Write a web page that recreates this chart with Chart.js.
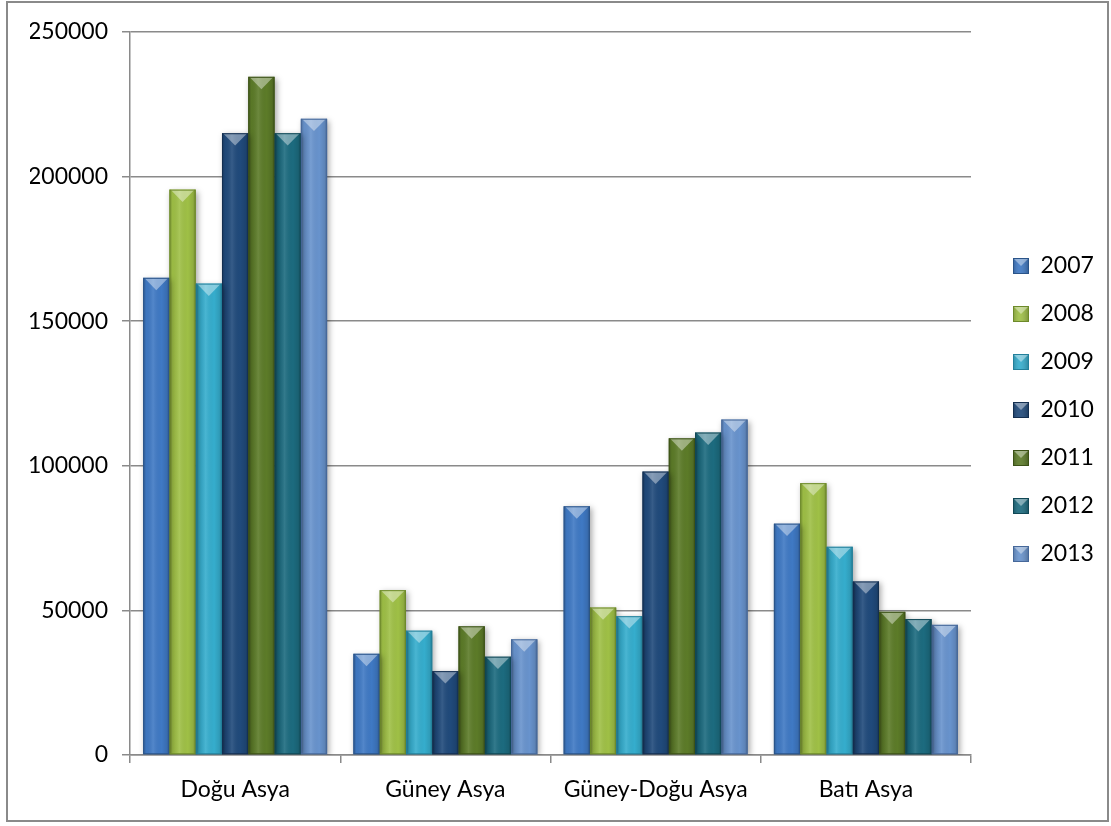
<!DOCTYPE html>
<html lang="tr">
<head>
<meta charset="utf-8">
<title>Asya bölgeleri 2007-2013</title>
<script src="https://cdn.jsdelivr.net/npm/chart.js@4.4.1/dist/chart.umd.min.js"></script>
<style>
  html, body { margin: 0; padding: 0; background: #fff; }
  #wrap { width: 1111px; height: 826px; }
</style>
</head>
<body>
<div id="wrap"><canvas id="chart" width="1111" height="826"></canvas></div>
<script>
// Regions on the category axis
const regions = ['Doğu Asya', 'Güney Asya', 'Güney-Doğu Asya', 'Batı Asya'];

// One series per year
const years = ['2007', '2008', '2009', '2010', '2011', '2012', '2013'];
const values2007 = [165000, 35000, 86000, 80000];
const values2008 = [195500, 57000, 51000, 94000];
const values2009 = [163000, 43000, 48000, 72000];
const values2010 = [215000, 29000, 98000, 60000];
const values2011 = [234500, 44500, 109500, 49500];
const values2012 = [215000, 34000, 111500, 47000];
const values2013 = [220000, 40000, 116000, 45000];

// Value axis ticks
const yMin = 0;
const yMax = 250000;
const yStep = 50000;

const seriesColors = ['#3f79c4', '#9fc046', '#35adcd', '#204a7b', '#5c7b28', '#1c6b7f', '#6893cd'];
const seriesBorders = ['#2a5489', '#6d8a2a', '#23809b', '#142f50', '#3c5217', '#114856', '#46689a'];

const seriesValues = [values2007, values2008, values2009, values2010, values2011, values2012, values2013];

const FONT = 'Lato, "Open Sans", sans-serif';
const FONT_SIZE = 23;
const GRAY = '#8a8a8a';

Chart.defaults.font.family = FONT;
Chart.defaults.font.size = FONT_SIZE;
Chart.defaults.color = '#000';

// Small bevelled squares used as legend markers
function makeSwatch(fill, edge) {
  const c = document.createElement('canvas');
  c.width = 16;
  c.height = 16;
  const g = c.getContext('2d');
  g.fillStyle = fill;
  g.fillRect(0, 0, 16, 16);
  const sh = g.createLinearGradient(0, 0, 16, 0);
  sh.addColorStop(0, 'rgba(0,0,0,0.2)');
  sh.addColorStop(0.4, 'rgba(255,255,255,0.08)');
  sh.addColorStop(1, 'rgba(0,0,0,0.25)');
  g.fillStyle = sh;
  g.fillRect(0, 0, 16, 16);
  g.beginPath();
  g.moveTo(0, 0);
  g.lineTo(16, 0);
  g.lineTo(8, 8);
  g.closePath();
  g.fillStyle = 'rgba(255,255,255,0.4)';
  g.fill();
  g.strokeStyle = edge;
  g.lineWidth = 1;
  g.strokeRect(0.5, 0.5, 15, 15);
  return c;
}
const legendSwatches = seriesColors.map((col, i) => makeSwatch(col, seriesBorders[i]));

// White background and the outer frame
const framePlugin = {
  id: 'frame',
  beforeDraw(chart) {
    const ctx = chart.ctx;
    ctx.save();
    ctx.fillStyle = '#fff';
    ctx.fillRect(0, 0, chart.width, chart.height);
    ctx.strokeStyle = GRAY;
    ctx.lineWidth = 2;
    ctx.strokeRect(7, 2, 1101, 819);
    ctx.restore();
  }
};

// Legend sits apart from the plot area on the right
const legendPlacePlugin = {
  id: 'legendPlace',
  beforeLayout(chart) {
    const lg = chart.legend;
    if (lg && !lg._fixedFit) {
      const fit = lg.fit;
      lg.fit = function () {
        fit.call(this);
        this.width = 140;
      };
      lg._fixedFit = true;
    }
  },
  afterLayout(chart) {
    const lg = chart.legend;
    lg.left = 988;
    lg.right = 1111;
    lg.width = 123;
    lg.top = 0;
    lg.bottom = 820;
    lg.height = 820;
  }
};

// Shadow under the bars, then shading and a bevelled top on each one
const bevelPlugin = {
  id: 'bevel',
  beforeDatasetsDraw(chart) {
    const ctx = chart.ctx;
    ctx.save();
    ctx.shadowColor = 'rgba(0,0,0,0.35)';
    ctx.shadowBlur = 6;
    ctx.shadowOffsetX = 2;
    ctx.shadowOffsetY = 2;
  },
  afterDatasetsDraw(chart) {
    const ctx = chart.ctx;
    ctx.restore();
    ctx.save();
    chart.data.datasets.forEach((ds, i) => {
      chart.getDatasetMeta(i).data.forEach(bar => {
        const { x, y, base, width } = bar.getProps(['x', 'y', 'base', 'width'], true);
        const left = x - width / 2;
        const right = x + width / 2;
        const h = base - y;
        if (h <= 0) return;

        const g = ctx.createLinearGradient(left, 0, right, 0);
        g.addColorStop(0, 'rgba(0,0,0,0.25)');
        g.addColorStop(0.12, 'rgba(0,0,0,0.03)');
        g.addColorStop(0.38, 'rgba(255,255,255,0.10)');
        g.addColorStop(0.7, 'rgba(0,0,0,0)');
        g.addColorStop(0.9, 'rgba(0,0,0,0.1)');
        g.addColorStop(1, 'rgba(0,0,0,0.3)');
        ctx.fillStyle = g;
        ctx.fillRect(left, y, width, h);

        // light facet pointing down from the top edge
        const capH = Math.min(width * 0.47, h);
        ctx.beginPath();
        ctx.moveTo(left + 1, y);
        ctx.lineTo(right - 1, y);
        ctx.lineTo(x, y + capH);
        ctx.closePath();
        ctx.fillStyle = 'rgba(255,255,255,0.4)';
        ctx.fill();

        ctx.strokeStyle = ds.borderColor;
        ctx.lineWidth = 1;
        ctx.strokeRect(left + 0.5, y + 0.5, width - 1, h - 1);
      });
    });
    ctx.restore();
  }
};

const datasets = years.map((year, i) => ({
  label: year,
  data: seriesValues[i],
  backgroundColor: seriesColors[i],
  borderColor: seriesBorders[i],
  borderWidth: 0,
  barPercentage: 1,
  categoryPercentage: 0.875
}));

new Chart(document.getElementById('chart').getContext('2d'), {
  type: 'bar',
  data: { labels: regions, datasets },
  options: {
    responsive: false,
    animation: false,
    layout: { padding: { left: 30, top: 32, right: 0, bottom: 0 } },
    plugins: {
      legend: {
        position: 'right',
        labels: {
          usePointStyle: true,
          boxWidth: 16,
          boxHeight: 16,
          padding: 25,
          color: '#000',
          font: { size: FONT_SIZE, family: FONT },
          generateLabels(chart) {
            const items = Chart.defaults.plugins.legend.labels.generateLabels(chart);
            items.forEach((item, i) => { item.pointStyle = legendSwatches[i]; });
            return items;
          }
        }
      },
      tooltip: { enabled: false }
    },
    scales: {
      x: {
        afterFit(scale) { scale.height = 71; },
        grid: { drawOnChartArea: false, offset: true, color: GRAY, lineWidth: 1.5, tickLength: 8 },
        border: { color: GRAY, width: 1.5 },
        ticks: { padding: 13, color: '#000', font: { size: FONT_SIZE } }
      },
      y: {
        min: yMin,
        max: yMax,
        afterFit(scale) { scale.width = 100; },
        grid: { color: GRAY, lineWidth: 1.5, tickLength: 8 },
        border: { color: GRAY, width: 1.5 },
        ticks: {
          stepSize: yStep,
          padding: 14,
          color: '#000',
          font: { size: FONT_SIZE },
          callback: value => String(value)
        }
      }
    }
  },
  plugins: [framePlugin, legendPlacePlugin, bevelPlugin]
});
</script>
</body>
</html>
